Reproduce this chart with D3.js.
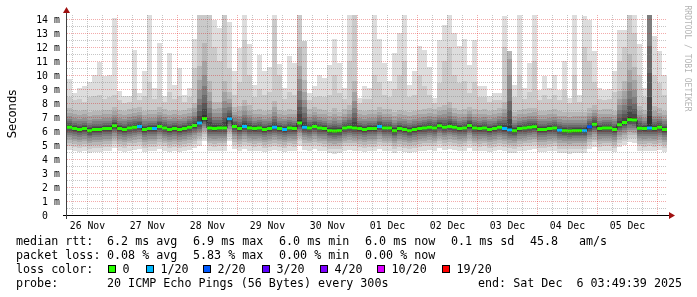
<!DOCTYPE html>
<html><head><meta charset="utf-8">
<script src="https://cdn.jsdelivr.net/npm/d3@7"></script>
<style>
html,body{margin:0;padding:0;background:#fff;}
svg{display:block;}
text{font-family:"DejaVu Sans Mono",monospace;white-space:pre;}
.gs{filter:grayscale(1);}
</style></head><body>
<svg id="c" width="697" height="297"></svg>
<script>
// ---- data (2-hour consolidated columns, 26 Nov 03:49 -> 06 Dec 03:49) ----
const medianMs = [
6.26,6.17,6.10,6.17,6.02,6.10,6.10,6.17,6.17,6.38,
6.17,6.10,6.21,6.26,6.33,6.10,6.17,6.17,6.33,6.21,
6.10,6.17,6.10,6.17,6.26,6.40,6.57,6.90,6.21,6.17,
6.21,6.21,6.88,6.33,6.17,6.33,6.21,6.17,6.21,6.10,
6.17,6.26,6.17,6.10,6.21,6.17,6.57,6.26,6.21,6.33,
6.21,6.17,6.02,6.00,6.02,6.21,6.26,6.21,6.17,6.10,
6.17,6.17,6.33,6.21,6.21,6.02,6.17,6.10,6.02,6.10,
6.17,6.21,6.26,6.21,6.38,6.26,6.33,6.26,6.17,6.21,
6.40,6.21,6.17,6.21,6.10,6.17,6.26,6.17,6.07,6.02,
6.17,6.21,6.26,6.31,6.10,6.10,6.17,6.21,6.05,6.02,
6.00,6.02,6.02,6.02,6.30,6.48,6.17,6.21,6.21,6.10,
6.45,6.60,6.80,6.78,6.20,6.17,6.21,6.17,6.26,6.10];
const lossCount = [
0,0,0,0,0,0,0,0,0,0, 0,0,0,0,1,0,0,1,0,0,
0,0,0,0,0,0,1,0,0,0, 0,0,1,0,0,1,0,0,0,0,
0,1,0,1,0,0,0,1,0,0, 0,0,0,0,0,0,0,0,0,0,
0,0,1,0,0,0,0,0,0,0, 0,0,0,0,0,0,0,0,0,0,
0,0,0,0,0,0,0,1,1,0, 0,0,0,0,0,0,0,0,1,0,
0,0,0,1,2,0,0,0,0,0, 0,0,0,0,0,0,1,0,0,0];
const pingMax = [
9.7,8.7,9.1,9.2,9.5,10.0,10.9,9.9,10.0,14.1,
8.85,8.5,8.5,11.8,8.7,10.3,14.3,9.1,12.3,8.5,
11.6,9.3,10.5,8.6,9.1,12.6,14.4,14.4,14.4,13.95,
13.35,14.4,13.8,10.3,11.9,14.4,12.2,9.3,11.45,10.3,
10.6,14.3,10.8,9.07,11.35,10.85,14.3,12.4,8.7,9.2,
10.0,9.8,10.7,12.6,10.85,9.07,14.3,14.3,8.36,9.2,
9.07,14.3,12.6,10.85,9.55,11.6,13.0,14.3,9.3,10.3,
12.05,11.8,10.6,8.36,12.5,13.6,14.3,13.0,12.05,12.6,
10.7,12.5,9.2,9.2,8.5,8.7,8.7,14.2,11.7,9.3,
14.3,9.07,10.85,14.3,8.9,9.9,9.07,10.0,8.9,11.0,
8.36,14.3,8.6,14.2,13.9,11.7,9.07,8.9,9.0,10.3,
13.25,13.25,14.3,14.3,12.2,9.07,14.3,12.8,11.7,10.0];
const ping19 = [
8.4,8.2,8.3,8.1,8.4,8.5,8.6,8.3,8.4,8.6,
8.2,8.0,8.1,9.0,8.2,8.5,9.5,8.3,9.0,8.1,
8.8,8.3,8.5,8.1,8.4,10.5,14.4,14.4,14.4,12.0,
11.0,14.4,10.5,8.6,9.5,12.5,10.0,8.4,9.0,8.6,
8.8,14.0,10.0,8.3,8.8,8.6,14.4,14.4,8.2,8.4,
8.5,8.4,8.6,10.0,8.7,8.3,11.0,14.4,8.0,8.3,
8.3,10.0,9.5,8.6,8.4,9.0,10.0,11.0,8.4,8.6,
10.0,9.2,8.6,8.0,9.4,11.0,12.0,10.0,9.4,9.6,
8.7,9.5,8.4,8.4,8.1,8.2,8.2,12.0,11.7,8.4,
10.0,8.3,8.8,11.0,8.2,8.6,8.3,8.6,8.2,8.9,
8.0,10.0,8.1,12.0,11.0,9.5,8.3,8.2,8.3,8.8,
11.0,12.0,14.4,13.0,10.0,8.4,14.4,10.0,9.4,8.6];
const upperSpread = [
1,1,1,1,1,1,1,1,1,1, 1,1,1,1,1,1,1,1,1,1,
1,1,1,1,1,1.2,3,4,2.5,1.4, 1.4,2.5,1.4,1,1.2,1.4,1.2,1,1,1,
1,1.4,1,1,1,1,4,2.5,1,1, 1,1,1,1.2,1,1,1.2,2.5,1,1,
1,1,1,1,1,1,1,1,1,1, 1,1,1,1,1,1.2,1.3,1,1,1,
1,1,1,1,1,1,1,1.4,5,1, 1,1,1,1,1,1,1,1,1,1,
1,1,1,1,1,1,1,1,1,1, 1.8,2.2,3.5,2.8,1.2,1,14,1.2,1,1];
// typical offsets of sorted pings 1..18 from the median (ms)
const innerOffsets = [-1.62,-1.3,-1.1,-0.9,-0.72,-0.55,-0.4,-0.27,-0.15,-0.05,
                      0.06,0.16,0.28,0.42,0.58,0.78,1.02,1.35];
const yTickValues = [0,1,2,3,4,5,6,7,8,9,10,11,12,13,14];
const yTickLabels = ["0  ","1 m","2 m","3 m","4 m","5 m","6 m","7 m","8 m","9 m","10 m","11 m","12 m","13 m","14 m"];
const xTickLabels = ["26 Nov","27 Nov","28 Nov","29 Nov","30 Nov","01 Dec","02 Dec","03 Dec","04 Dec","05 Dec"];
const lossLevels = [0,1,2,3,4,10,19];
const lossLabels = ["0","1/20","2/20","3/20","4/20","10/20","19/20"];
const lossColors = ["#26ff00","#00b8ff","#0059ff","#5e00ff","#7e00ff","#dd00ff","#ff0000"];
const legendRtt = ["6.2 ms avg","6.9 ms max","6.0 ms min","6.0 ms now","0.1 ms sd","45.8","am/s"];
const legendLoss = ["0.08 % avg","5.83 % max","0.00 % min","0.00 % now"];

// ---- layout ----
const X0=67, X1=667, Y0=215, Y1=15;
const endTime = Date.UTC(2025,11,6,3,49,39);
const startTime = endTime - 10*86400e3;
const step = 7200e3;
const x = d3.scaleUtc().domain([startTime,endTime]).range([X0,X1]);
const y = d3.scaleLinear().domain([0,(Y0-Y1)/14]).range([Y0,Y1]);
const svg = d3.select("#c");
svg.append("rect").attr("width",697).attr("height",297).attr("fill","#fff");
svg.append("defs").append("clipPath").attr("id","pc").append("rect")
  .attr("x",X0).attr("y",Y1).attr("width",X1-X0).attr("height",Y0-Y1);

const cat = l => lossLevels.findIndex(v => l <= v);
const pts = [];
medianMs.forEach((m,c)=>{
  const p19 = Math.min(ping19[c], pingMax[c]);
  const p = innerOffsets.map((o,k)=> Math.min(p19, m + o*(k>=10?upperSpread[c]:1)));
  p.push(p19, pingMax[c]);
  const t0 = startTime + c*step;
  const d = {p, m, k: cat(lossCount[c])};
  pts.push(Object.assign({t:t0},d), Object.assign({t:t0+step},d));
});

const plot = svg.append("g").attr("clip-path","url(#pc)");
for(let i=1;i<=10;i++){
  const g = Math.floor(190/10*(10-i))+50;
  const area = d3.area().x(d=>x(d.t)).y0(d=>y(d.p[i-1])).y1(d=>y(d.p[20-i]));
  plot.append("path").datum(pts).attr("d",area).attr("fill",d3.rgb(g,g,g))
    .attr("shape-rendering","crispEdges");
}
plot.append("path").datum(pts).attr("d",d3.line().x(d=>x(d.t)).y(d=>y(d.m)))
  .attr("fill","none").attr("stroke","#202020").attr("stroke-width",1);
lossColors.forEach((col,k)=>{
  const band = d3.area().defined(d=>d.k===k).x(d=>x(d.t))
    .y0(d=>y(d.m)+1.5).y1(d=>y(d.m)-1.5);
  plot.append("path").datum(pts).attr("d",band).attr("fill",col);
});

// ---- grid ----
const grid = svg.append("g");
const minorY = d3.range(0.5,14.3,0.5).filter(v=>v%1!==0);
minorY.forEach(v=>{
  const yy = Math.round(y(v))+0.5;
  grid.append("line").attr("x1",X0).attr("x2",X1).attr("y1",yy).attr("y2",yy)
   .attr("stroke","rgba(128,128,128,0.45)").attr("stroke-dasharray","1,1");
});
const minorX = d3.utcHour.every(6).range(new Date(startTime), new Date(endTime));
minorX.forEach(t=>{
  if (t.getUTCHours()===0) return;
  const xx = Math.round(x(t))+0.5;
  grid.append("line").attr("x1",xx).attr("x2",xx).attr("y1",Y1).attr("y2",Y0)
   .attr("stroke","rgba(128,128,128,0.45)").attr("stroke-dasharray","1,1");
});
yTickValues.slice(1).forEach(v=>{
  const yy = Math.round(y(v))+0.5;
  grid.append("line").attr("x1",X0).attr("x2",X1).attr("y1",yy).attr("y2",yy)
   .attr("stroke","rgba(220,0,0,0.33)").attr("stroke-dasharray","1,1");
});
d3.utcDay.range(new Date(startTime), new Date(endTime)).forEach(t=>{
  const xx = Math.round(x(t))+0.5;
  grid.append("line").attr("x1",xx).attr("x2",xx).attr("y1",Y1).attr("y2",Y0)
   .attr("stroke","rgba(220,0,0,0.33)").attr("stroke-dasharray","1,1");
});

// ---- axes ----
svg.append("line").attr("x1",X0-4).attr("x2",X1+4).attr("y1",Y0+0.5).attr("y2",Y0+0.5)
  .attr("stroke","#000");
svg.append("line").attr("x1",X0-0.5).attr("x2",X0-0.5).attr("y1",Y0+4).attr("y2",Y1-4)
  .attr("stroke","#404040");
svg.append("path").attr("d",`M${X1+2},${Y0-3}L${X1+2},${Y0+4}L${X1+8},${Y0+0.5}Z`).attr("fill","#a01010");
svg.append("path").attr("d",`M${X0-4},${Y1-2}L${X0+3},${Y1-2}L${X0-0.5},${Y1-8}Z`).attr("fill","#a01010");

svg.append("g").attr("class","gs").selectAll("text").data(yTickValues).join("text")
  .attr("x",59.8).attr("y",v=>y(v)+3.6).attr("text-anchor","end")
  .attr("font-size","9.8px").attr("fill","#000").text((v,i)=>yTickLabels[i]);
svg.append("g").attr("class","gs").selectAll("text").data(xTickLabels).join("text")
  .attr("x",(d,i)=>x(Date.UTC(2025,10,26+i,12))).attr("y",228.5).attr("text-anchor","middle")
  .attr("font-size","9.8px").attr("fill","#000").text(d=>d);

svg.append("text").attr("class","gs").attr("transform","translate(15.5,114) rotate(-90)")
  .attr("text-anchor","middle")
  .style("font-family","'DejaVu Sans',sans-serif").attr("font-size","11.6px").text("Seconds");
svg.append("text").attr("class","gs").attr("transform","translate(684.5,58.5) rotate(90)")
  .attr("text-anchor","middle").attr("font-size","8px").attr("fill","#b4b4b4")
  .text("RRDTOOL / TOBI OETIKER");

// ---- legend ----
const lg = svg.append("g").attr("font-size","11.7px").attr("fill","#000");
const tg = lg.append("g").attr("class","gs");
const T = (xx,yy,s)=>tg.append("text").attr("x",xx).attr("y",yy).text(s);
T(16,245,"median rtt:");
[107,193,279,365,451,530,579].forEach((xx,i)=>T(xx,245,legendRtt[i]));
T(16,259,"packet loss:");
[107,193,279,365].forEach((xx,i)=>T(xx,259,legendLoss[i]));
T(16,273,"loss color:");
[108,146,203,262,320,377,442].forEach((bx,i)=>{
  lg.append("rect").attr("x",bx+0.5).attr("y",265.5).attr("width",7).attr("height",7)
    .attr("fill",lossColors[i]).attr("stroke","#000");
  T(bx+14.5,273,lossLabels[i]);
});
T(16,287,"probe:");
T(107,287,"20 ICMP Echo Pings (56 Bytes) every 300s");
T(478,287,"end: Sat Dec  6 03:49:39 2025");
</script></body></html>
